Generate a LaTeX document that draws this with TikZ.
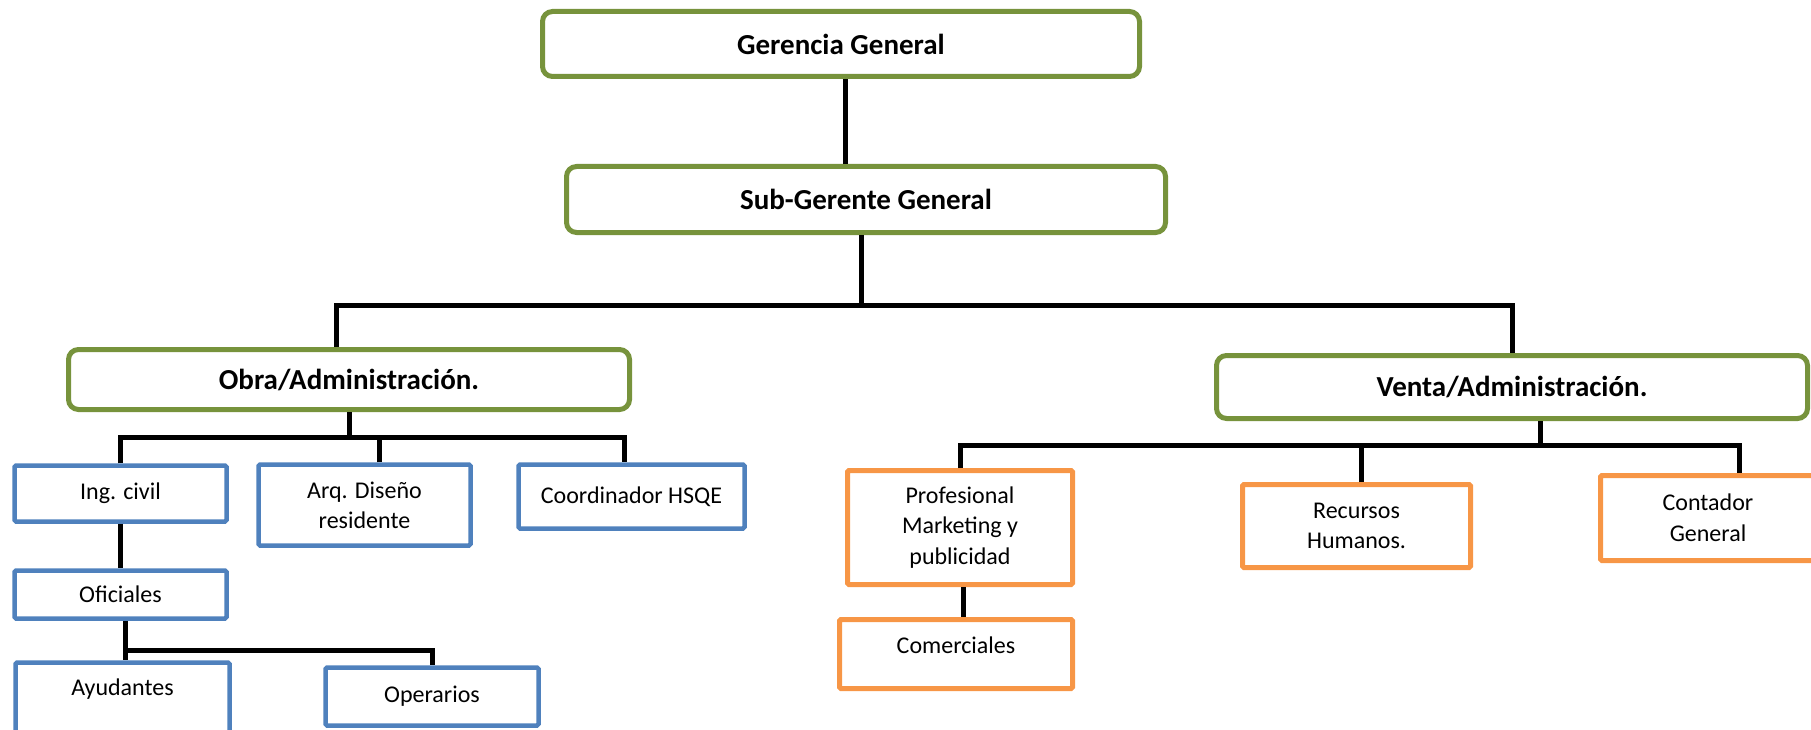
\documentclass[tikz,border=0pt]{standalone}
\usepackage{fontspec}
\setmainfont{Carlito}
\usetikzlibrary{positioning}
\definecolor{headgreen}{HTML}{77933C}
\definecolor{obrablue}{HTML}{4F81BD}
\definecolor{ventaorange}{HTML}{F79646}
\tikzstyle{head} = [rectangle, rounded corners=10pt, draw=headgreen, line width=5pt, text centered, font=\fontsize{29}{35}\selectfont\bfseries]
\tikzstyle{obrabox} = [rectangle, rounded corners=1.5pt, draw=obrablue, line width=4.5pt, align=center, font=\fontsize{24}{30}\selectfont]
\tikzstyle{ventabox} = [rectangle, rounded corners=1.5pt, draw=ventaorange, line width=5pt, align=center, font=\fontsize{24}{30.5}\selectfont]
\tikzstyle{link} = [line width=5pt, black]

\begin{document}
\begin{tikzpicture}[x=1pt, y=-1pt]
\path[use as bounding box, clip] (0,0) rectangle (1811,730);

% top of the chart
\node (gerencia) [head, minimum width=597, minimum height=65] at (841,44) {Gerencia General};
\node (subgerente) [head, minimum width=599, minimum height=66] at (866,199.5) {Sub-Gerente General};

\node (obra) [head, minimum width=561, minimum height=60] at (349,379.5) {Obra/Administración.};
\node (venta) [head, minimum width=591, minimum height=63] at (1512,387) {Venta/Administración.};

% obra side
\node (ingcivil) [obrabox, minimum width=212, minimum height=56] at (120.5,493.5) {Ing. civil};
\node (arq) [obrabox, minimum width=212, minimum height=81] at (364.5,505) {Arq. Diseño\\residente};
\node (hsqe) [obrabox, minimum width=226, minimum height=64] at (631.5,496.5) {Coordinador HSQE};
\node (oficiales) [obrabox, minimum width=212, minimum height=48] at (120.5,594.5) {Oficiales};
\node (ayudantes) [obrabox, minimum width=214, minimum height=80, text depth=30pt] at (122.5,702.5) {Ayudantes};
\node (operarios) [obrabox, minimum width=213, minimum height=58] at (432,696.5) {Operarios};

% venta side
\node (profesional) [ventabox, minimum width=225, minimum height=114] at (960,527.5) {Profesional\\Marketing y\\publicidad};
\node (comerciales) [ventabox, minimum width=233, minimum height=69, text depth=18pt] at (956,654) {Comerciales};
\node (recursos) [ventabox, minimum width=228, minimum height=83] at (1356.5,526) {Recursos\\Humanos.};
\node (contador) [ventabox, minimum width=215, minimum height=85] at (1708,518) {Contador\\General};

% junctions of the bars
\coordinate (busA) at (861,305);
\coordinate (busB) at (349,437);
\coordinate (busC) at (126,650);
\coordinate (busD) at (1540,445);

\draw [link] ([xshift=4pt]gerencia.south) -- ([xshift=4pt]gerencia.south |- subgerente.north);

\draw [link] ([xshift=-5pt]subgerente.south) -- (busA);
\draw [link] ([xshift=-13pt]obra.north) |- (busA) -| (venta.north);

\draw [link] (obra) -- (busB);
\draw [link] (ingcivil.north) |- (busB) -| ([xshift=-7pt]hsqe.north);
\draw [link] ([xshift=15pt]arq.north) -- ([xshift=15pt]arq.north |- busB);

\draw [link] (ingcivil) -- (oficiales);
\draw [link] ([xshift=5pt]oficiales.south) -- ([xshift=5pt]oficiales.south |- ayudantes.north);
\draw [link] (busC) -| (operarios.north);

\draw [link] ([xshift=28pt]venta.south) -- (busD);
\draw [link] (profesional.north) |- (busD) -| ([xshift=31pt]contador.north);
\draw [link] ([xshift=5pt]recursos.north) -- ([xshift=5pt]recursos.north |- busD);
\draw [link] ([xshift=3pt]profesional.south) -- ([xshift=3pt]profesional.south |- comerciales.north);
\end{tikzpicture}
\end{document}
